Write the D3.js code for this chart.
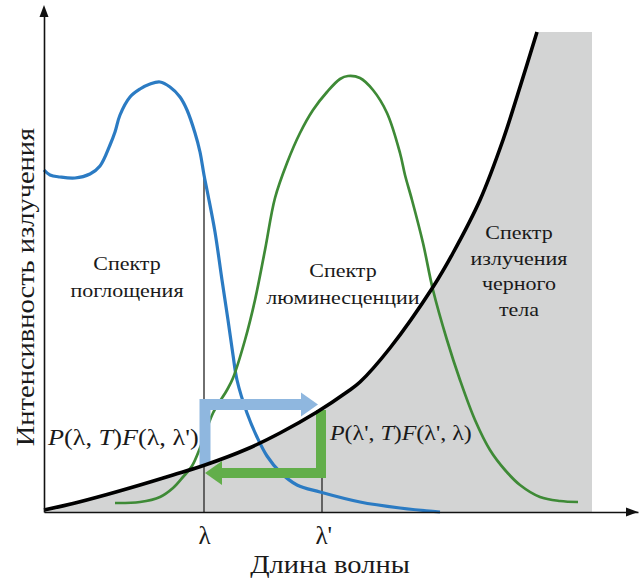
<!DOCTYPE html>
<html><head><meta charset="utf-8">
<script src="https://cdn.jsdelivr.net/npm/d3@7"></script>
<style>html,body{margin:0;padding:0;background:#fff;}svg{display:block;}
text{font-family:"Liberation Serif","Times New Roman",serif;}</style>
</head><body>
<svg id="c" width="641" height="581"></svg>
<script>
// ---- data (wavelength in arbitrary units, intensity in arbitrary units) ----
const absX = [0,6,16,31,46,56,66,71,76,86,96,106,116,126,136,143,151,156,160,164,171,178,184,189,193,203,213,223,236,253,276,316,356,396];
const absY = [342,337,335,334,338,346,367,380,397,415,423,428,430,425,415,402,379,360,337,317,280,232,192,157,132,99,75,56,40,27,20,10,4,0];
const lumX = [71,96,116,129,139,148,156,169,183,189,201,211,221,231,243,256,269,283,296,304,316,329,343,356,361,368,379,389,403,416,431,446,461,476,496,516,534];
const lumY = [9,10,15,24,35,46,64,99,122,134,172,212,262,314,349,379,402,420,433,436,434,422,399,359,337,312,269,222,172,132,92,62,42,27,15,11,10];
const bbX = [0,29,63,96,129,161,203,236,273,303,316,346,389,409,436,459,476,493];
const bbY = [2,8.5,17.5,27,37,47,63,79,100,120,130,164,225,259,312,372,425,480];
const bbShadeEnd = 548;          // gray shade extends to here
const lambda = 160, lambdaPrime = 278;
const tickLabels = ["λ", "λ'"];
const xTitle = "Длина волны";
const yTitle = "Интенсивность излучения";
const absLabel = ["Спектр", "поглощения"];
const lumLabel = ["Спектр", "люминесценции"];
const bbLabel = ["Спектр", "излучения", "черного", "тела"];
// arrow levels (intensity units)
const blueArrow = {yStart: 47, yLevel: 107.5, xEnd: 274};
const greenArrow = {yStart: 102, yLevel: 39, xEnd: 161};

// ---- drawing ----
const svg = d3.select("#c");
const x = d3.scaleLinear().domain([0, 594]).range([44, 638]);
const y = d3.scaleLinear().domain([0, 500]).range([512, 12]);
const serif = '"Liberation Serif","Times New Roman",serif';
const zip = (a, b) => a.map((v, i) => [v, b[i]]);
const curve = d3.curveCatmullRom.alpha(0.5);
const WIDE = 1.14;   // reference typeface is wider than Times metrics

// gray shade under blackbody curve
const bb = zip(bbX, bbY);
svg.append("path")
  .attr("d", d3.area().x(d => x(d[0])).y0(y(0)).y1(d => y(d[1])).curve(curve)(bb))
  .attr("fill", "#d3d4d4");
svg.append("rect")
  .attr("x", x(bbX[bbX.length - 1]) - 0.5).attr("y", y(bbY[bbY.length - 1]))
  .attr("width", x(bbShadeEnd) - x(bbX[bbX.length - 1]) + 0.5)
  .attr("height", y(0) - y(bbY[bbY.length - 1]))
  .attr("fill", "#d3d4d4");

const line = d3.line().x(d => x(d[0])).y(d => y(d[1])).curve(curve);

// vertical lambda lines
const absAt = d3.scaleLinear().domain(absX).range(absY);
svg.append("line").attr("x1", x(lambda)).attr("x2", x(lambda))
  .attr("y1", y(absAt(lambda))).attr("y2", y(0))
  .attr("stroke", "#333").attr("stroke-width", 1.4);
const bbAt = d3.scaleLinear().domain(bbX).range(bbY);
svg.append("line").attr("x1", x(lambdaPrime)).attr("x2", x(lambdaPrime))
  .attr("y1", y(bbAt(lambdaPrime))).attr("y2", y(0))
  .attr("stroke", "#333").attr("stroke-width", 1.4);

// spectra
svg.append("path").attr("d", line(zip(absX, absY)))
  .attr("fill", "none").attr("stroke", "#2b7bc3").attr("stroke-width", 3.2);
svg.append("path").attr("d", line(zip(lumX, lumY)))
  .attr("fill", "none").attr("stroke", "#3e8a36").attr("stroke-width", 2.7);

// arrows
function arrow(x0, yS, yL, xE, color, w) {
  const dir = Math.sign(x(xE) - x(x0));
  const headLen = 17, headHalf = 12;
  const baseX = x(xE) - dir * headLen;
  svg.append("path")
    .attr("d", `M${x(x0)},${y(yS)}L${x(x0)},${y(yL)}L${baseX},${y(yL)}`)
    .attr("fill", "none").attr("stroke", color).attr("stroke-width", w)
    .attr("stroke-linejoin", "miter").attr("stroke-linecap", "butt");
  svg.append("path")
    .attr("d", `M${baseX},${y(yL) - headHalf}L${x(xE)},${y(yL)}L${baseX},${y(yL) + headHalf}Z`)
    .attr("fill", color);
}
arrow(lambda + 1, blueArrow.yStart, blueArrow.yLevel, blueArrow.xEnd, "#8fb7df", 11);
arrow(lambdaPrime - 1, greenArrow.yStart, greenArrow.yLevel, greenArrow.xEnd, "#62ae4a", 10);

// blackbody curve
svg.append("path").attr("d", line(bb))
  .attr("fill", "none").attr("stroke", "#000").attr("stroke-width", 3.6);

// axes
const xAxis = d3.axisBottom(x).tickValues([lambda, lambdaPrime])
  .tickFormat((d, i) => tickLabels[i]).tickSize(0).tickPadding(14).tickSizeOuter(0);
const gx = svg.append("g").attr("transform", `translate(0,${y(0)})`).call(xAxis);
gx.attr("font-family", null).attr("font-size", null);
gx.select(".domain").attr("stroke", "#111").attr("stroke-width", 1.6);
gx.selectAll(".tick text").style("font-family", serif).style("font-size", "25px").attr("fill", "#1a1a1a")
  .attr("text-anchor", (d, i) => i === 1 ? "start" : "middle")
  .attr("dx", (d, i) => i === 1 ? -7 : 0);
const yAxis = d3.axisLeft(y).tickValues([]).tickSizeOuter(0);
const gy = svg.append("g").attr("transform", `translate(${x(0)},0)`).call(yAxis);
gy.select(".domain").attr("stroke", "#111").attr("stroke-width", 1.6);
// arrowheads
svg.append("path")
  .attr("d", `M${x(0)},${y(500) - 7}L${x(0) - 4.5},${y(500) + 5}L${x(0) + 4.5},${y(500) + 5}Z`)
  .attr("fill", "#111");
svg.append("path")
  .attr("d", `M${x(594)},${y(0)}L${x(594) - 12},${y(0) - 4.5}L${x(594) - 12},${y(0) + 4.5}Z`)
  .attr("fill", "#111");

// text helper: place and stretch horizontally like the reference typeface
function label(parent, parts, size, anchor) {
  const g = parent.append("g");
  const t = g.append("text").style("font-family", serif).style("font-size", size + "px")
    .attr("fill", "#1a1a1a").attr("text-anchor", anchor);
  parts.forEach(p => t.append("tspan").attr("font-style", p[1] ? "italic" : "normal").text(p[0]));
  return g;
}

// axis titles
label(svg, [[xTitle, 0]], 25, "middle").attr("transform", `translate(330,573) scale(${WIDE},1)`);
label(svg, [[yTitle, 0]], 25, "middle").attr("transform", `translate(34,287) rotate(-90) scale(${WIDE},1)`);

// region labels
function block(lines, cx, by, gap) {
  lines.forEach((s, i) => label(svg, [[s, 0]], 19.3, "middle")
    .attr("transform", `translate(${x(cx)},${y(by) + i * gap}) scale(${WIDE},1)`));
}
block(absLabel, 83, 242, 27);
block(lumLabel, 299, 235, 27);
block(bbLabel, 475, 273, 25.5);

// formula labels
label(svg, [["P",1],["(λ, ",0],["T",1],[")",0],["F",1],["(λ, λ')",0]], 23, "start")
  .attr("transform", `translate(${x(4)},${y(67)}) scale(${WIDE},1)`);
label(svg, [["P",1],["(λ', ",0],["T",1],[")",0],["F",1],["(λ', λ)",0]], 21, "start")
  .attr("transform", `translate(${x(286)},${y(72)}) scale(${WIDE},1)`);
</script>
</body></html>
